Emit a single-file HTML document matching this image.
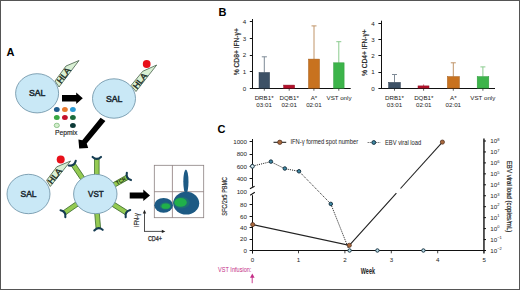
<!DOCTYPE html>
<html><head><meta charset="utf-8">
<style>
html,body{margin:0;padding:0;background:#fff;}
svg{display:block;}
text{font-family:"Liberation Sans",sans-serif;}
.t{font-size:6.2px;fill:#222;}
.lb{font-size:11px;font-weight:bold;fill:#000;}
</style></head><body>
<svg width="520" height="290" viewBox="0 0 520 290">
<rect x="0" y="0" width="520" height="290" fill="#fff"/>
<rect x="0.5" y="0.5" width="519" height="289" fill="none" stroke="#555" stroke-width="1"/>

<!-- ============ PANEL A ============ -->
<text class="lb" x="6.6" y="56.4">A</text>

<!-- SAL 1 + HLA -->
<polygon points="55,81 66,66 79,60.5 59,87" fill="#d9f0d4" stroke="#2f4a34" stroke-width="0.7"/>
<ellipse cx="37.1" cy="93.3" rx="21.5" ry="19.6" fill="#c9e8f6" stroke="#6f93a8" stroke-width="0.85"/>
<text x="63.6" y="78.42" font-size="8.4" fill="#1a2a22" stroke="#1a2a22" stroke-width="0.35" text-anchor="middle" textLength="17.2" lengthAdjust="spacingAndGlyphs" transform="rotate(-53.5 63.6 75.4)">HLA</text>
<text x="28.9" y="95.9" font-size="9.1" fill="#1c2a32" stroke="#1c2a32" stroke-width="0.5" textLength="16.5" lengthAdjust="spacingAndGlyphs">SAL</text>

<!-- arrow right 1 -->
<polygon points="62,95 76.2,95 76.2,92.4 82.8,98.2 76.2,104.1 76.2,101.5 62,101.5" fill="#000"/>

<!-- pepmix -->
<g>
<ellipse cx="56.8" cy="109.5" rx="2.9" ry="2.5" fill="#1f5c8c"/>
<ellipse cx="64.9" cy="109.5" rx="2.9" ry="2.5" fill="#e8782c"/>
<ellipse cx="72.9" cy="109.5" rx="2.9" ry="2.5" fill="#2a9ad4"/>
<ellipse cx="56.8" cy="117.5" rx="2.9" ry="2.5" fill="#3aa844"/>
<ellipse cx="64.9" cy="117.5" rx="2.9" ry="2.5" fill="#c4102c"/>
<ellipse cx="72.9" cy="117.5" rx="2.9" ry="2.5" fill="#1b6b3c"/>
<ellipse cx="56.8" cy="125.4" rx="2.6" ry="2.2" fill="#d4eecc" stroke="#5aa85a" stroke-width="0.6"/>
<ellipse cx="72.9" cy="125.4" rx="2.9" ry="2.5" fill="#0d3a38"/>
</g>
<text x="54.9" y="134.8" font-size="7.2" fill="#222" stroke="#222" stroke-width="0.15" textLength="22.5" lengthAdjust="spacingAndGlyphs">Pepmix</text>

<!-- SAL 2 -->
<polygon points="131,85.5 142.7,71.3 156.7,65 136,91.5" fill="#d9f0d4" stroke="#2f4a34" stroke-width="0.7"/>
<ellipse cx="114" cy="98.5" rx="21.5" ry="19.7" fill="#c9e8f6" stroke="#6f93a8" stroke-width="0.85"/>
<text x="139.85" y="83.87" font-size="8.4" fill="#1a2a22" stroke="#1a2a22" stroke-width="0.35" text-anchor="middle" textLength="17.2" lengthAdjust="spacingAndGlyphs" transform="rotate(-52 139.85 80.85)">HLA</text>
<circle cx="146.7" cy="64" r="3.9" fill="#e8101a"/>
<text x="105.9" y="101.6" font-size="9.1" fill="#1c2a32" stroke="#1c2a32" stroke-width="0.5" textLength="16.5" lengthAdjust="spacingAndGlyphs">SAL</text>

<!-- diagonal arrow -->
<polygon points="100.6,117.7 105.4,121 86.7,143.6 88.2,147.9 79.2,148.4 78.4,139.6 82.3,140.3" fill="#000"/>

<!-- SAL 3 -->
<polygon points="46.6,180.3 56.8,166.8 70.6,161 50.3,186.5" fill="#d9f0d4" stroke="#2f4a34" stroke-width="0.7"/>
<ellipse cx="28.5" cy="194" rx="21.5" ry="19.7" fill="#c9e8f6" stroke="#6f93a8" stroke-width="0.85"/>
<text x="54.65" y="178.97" font-size="8.4" fill="#1a2a22" stroke="#1a2a22" stroke-width="0.35" text-anchor="middle" textLength="17.2" lengthAdjust="spacingAndGlyphs" transform="rotate(-52.5 54.65 175.95)">HLA</text>
<circle cx="60.7" cy="159.4" r="4" fill="#e8101a"/>
<text x="20.5" y="196.9" font-size="9.1" fill="#1c2a32" stroke="#1c2a32" stroke-width="0.5" textLength="16" lengthAdjust="spacingAndGlyphs">SAL</text>

<!-- VST cell receptors -->
<g transform="translate(96.8 176.0) rotate(-90.0)"><rect x="-2" y="-2.3" width="19.1" height="4.6" fill="#94ca52" stroke="#3a6a2a" stroke-width="0.75"/><path d="M19.1,-4.2 Q15.2,0 19.1,4.2" fill="none" stroke="#153c52" stroke-width="2.1" stroke-linecap="round"/></g>
<g transform="translate(83.0 179.0) rotate(-124.1)"><rect x="-2" y="-2.3" width="19.1" height="4.6" fill="#94ca52" stroke="#3a6a2a" stroke-width="0.75"/><path d="M19.1,-4.2 Q15.2,0 19.1,4.2" fill="none" stroke="#153c52" stroke-width="2.1" stroke-linecap="round"/></g>
<g transform="translate(114.5 184.6) rotate(-29.6)"><rect x="-2" y="-2.3" width="16.6" height="4.6" fill="#94ca52" stroke="#3a6a2a" stroke-width="0.75"/><text x="7.4" y="1.8" font-size="5.2" font-weight="bold" fill="#142a0c" text-anchor="middle" textLength="10.4" lengthAdjust="spacingAndGlyphs">TCR</text><path d="M16.6,-4.2 Q12.7,0 16.6,4.2" fill="none" stroke="#153c52" stroke-width="2.1" stroke-linecap="round"/></g>
<g transform="translate(113.5 204.5) rotate(32.3)"><rect x="-2" y="-2.3" width="17.1" height="4.6" fill="#94ca52" stroke="#3a6a2a" stroke-width="0.75"/><path d="M17.1,-4.2 Q13.2,0 17.1,4.2" fill="none" stroke="#153c52" stroke-width="2.1" stroke-linecap="round"/></g>
<g transform="translate(96.9 212.0) rotate(85.0)"><rect x="-2" y="-2.3" width="18.2" height="4.6" fill="#94ca52" stroke="#3a6a2a" stroke-width="0.75"/><path d="M18.2,-4.2 Q14.3,0 18.2,4.2" fill="none" stroke="#153c52" stroke-width="2.1" stroke-linecap="round"/></g>
<g transform="translate(77.0 204.0) rotate(145.3)"><rect x="-2" y="-2.3" width="17.1" height="4.6" fill="#94ca52" stroke="#3a6a2a" stroke-width="0.75"/><path d="M17.1,-4.2 Q13.2,0 17.1,4.2" fill="none" stroke="#153c52" stroke-width="2.1" stroke-linecap="round"/></g>
<ellipse cx="95.3" cy="194" rx="21.7" ry="19.7" fill="#c9e8f6" stroke="#6f93a8" stroke-width="0.85"/>
<text x="88.1" y="196.5" font-size="9.1" fill="#1c2a32" stroke="#1c2a32" stroke-width="0.5" textLength="15.6" lengthAdjust="spacingAndGlyphs">VST</text>

<!-- arrow right 2 -->
<polygon points="129.7,192.5 143.3,192.5 143.3,189.5 150,195.5 143.3,201.1 143.3,198.5 129.7,198.5" fill="#000"/>

<!-- flow plot -->
<g>
  <rect x="154.3" y="165.3" width="49.4" height="52.4" fill="#fff" stroke="#8a8080" stroke-width="0.8"/>
  <line x1="172.4" y1="165.3" x2="172.4" y2="217.7" stroke="#8a7a7a" stroke-width="0.8"/>
  <line x1="154.3" y1="191.7" x2="203.7" y2="191.7" stroke="#8a7a7a" stroke-width="0.8"/>
  <ellipse cx="163.6" cy="205.3" rx="9.3" ry="7.4" fill="#1d5a84"/>
  <ellipse cx="165.6" cy="206" rx="5.6" ry="3.6" fill="#1f7a6c"/>
  <ellipse cx="165.8" cy="206.2" rx="4.2" ry="2.6" fill="#20b04a"/>
  <ellipse cx="185.9" cy="181.6" rx="2.6" ry="12.2" fill="#1d5a84"/>
  <ellipse cx="186.2" cy="203.2" rx="13" ry="11.4" fill="#1d5a84"/>
  <ellipse cx="181.5" cy="202.6" rx="8.2" ry="5.8" fill="#1e6e74"/>
  <ellipse cx="180.6" cy="202.4" rx="6.2" ry="4.3" fill="#20b04a"/>
</g>
<!-- axes arrows -->
<line x1="144.5" y1="231.4" x2="144.5" y2="212.5" stroke="#222" stroke-width="0.8"/>
<polygon points="144.5,209.8 142.8,213.4 146.2,213.4" fill="#222"/>
<line x1="144.1" y1="231.4" x2="162.5" y2="231.4" stroke="#222" stroke-width="0.8"/>
<polygon points="165.4,231.4 161.8,229.7 161.8,233.1" fill="#222"/>
<text x="138.7" y="227" font-size="6.6" fill="#222" stroke="#222" stroke-width="0.2" transform="rotate(-90 138.7 227)" textLength="13.7" lengthAdjust="spacingAndGlyphs">IFN-γ</text>
<text x="147.9" y="240.7" font-size="7.2" fill="#222" stroke="#222" stroke-width="0.25" textLength="14.1" lengthAdjust="spacingAndGlyphs">CD4+</text>

<!-- ============ PANEL B ============ -->
<text class="lb" x="218.6" y="16">B</text>

<!-- left chart -->
<g stroke="#111" stroke-width="1" fill="none">
  <line x1="252.5" y1="19" x2="252.5" y2="89"/>
  <line x1="252" y1="88.5" x2="350.7" y2="88.5"/>
  <path d="M249.8,88.5h2.7M249.8,71.5h2.7M249.8,55.5h2.7M249.8,38.5h2.7M249.8,21.5h2.7"/>
  <path d="M264.3,88.5v2.2M289.2,88.5v2.2M313.9,88.5v2.2M338.8,88.5v2.2" stroke-width="0.7"/>
</g>
<g class="t" text-anchor="end">
  <text x="246.2" y="90.7">0</text>
  <text x="246.2" y="74.05">1</text>
  <text x="246.2" y="57.4">2</text>
  <text x="246.2" y="40.75">3</text>
  <text x="246.2" y="24.1">4</text>
</g>
<!-- errors -->
<g stroke-width="1">
  <path d="M264.3,72.5V56.8M261.8,56.8H266.9" stroke="#7e8a96"/>
  <path d="M314,59.1V25.9M311.5,25.9H316.5" stroke="#c09468"/>
  <path d="M338.8,62.8V41.7M336.3,41.7H341.3" stroke="#8acb8e"/>
</g>
<rect x="259" y="72.5" width="10.6" height="15.7" fill="#3d5166" stroke="#2c3c4e" stroke-width="0.5"/>
<rect x="283.7" y="85.1" width="10.9" height="3.1" fill="#b5122c" stroke="#8a0e20" stroke-width="0.5"/>
<rect x="308.5" y="59.1" width="11" height="29.1" fill="#c8721f" stroke="#a45a16" stroke-width="0.5"/>
<rect x="333.6" y="62.8" width="10.5" height="25.4" fill="#3cb44a" stroke="#2d9a3a" stroke-width="0.5"/>
<g class="t" text-anchor="middle">
  <text x="264.1" y="99.6">DRB1*</text><text x="264.1" y="106.9">03:01</text>
  <text x="289.2" y="99.6">DQB1*</text><text x="289.2" y="106.9">02:01</text>
  <text x="313.9" y="99.6">A*</text><text x="313.9" y="106.9">02:01</text>
  <text x="339" y="99.6">VST only</text>
</g>
<text x="238.8" y="75.2" font-size="6.6" fill="#222" stroke="#222" stroke-width="0.2" transform="rotate(-90 238.8 75.2)" textLength="47" lengthAdjust="spacingAndGlyphs">% CD8+ IFN-γ+</text>

<!-- right chart -->
<g stroke="#111" stroke-width="1" fill="none">
  <line x1="381.5" y1="20.7" x2="381.5" y2="89"/>
  <line x1="381" y1="88.5" x2="495" y2="88.5"/>
  <path d="M378.4,88.5h3M378.4,72.5h3M378.4,55.5h3M378.4,39.5h3M378.4,23.5h3"/>
  <path d="M394.5,88.5v2.2M423.6,88.5v2.2M453.3,88.5v2.2M482.9,88.5v2.2" stroke-width="0.7"/>
</g>
<g class="t" text-anchor="end">
  <text x="374.8" y="90.5">0</text>
  <text x="374.8" y="74.3">1</text>
  <text x="374.8" y="58.1">2</text>
  <text x="374.8" y="41.9">3</text>
  <text x="374.8" y="25.7">4</text>
</g>
<g stroke-width="1">
  <path d="M394.5,82.4V74.5M392,74.5H397" stroke="#7e8a96"/>
  <path d="M423.6,85.9V84.5" stroke="#d05070"/>
  <path d="M453.3,76.6V62.8M450.8,62.8H455.8" stroke="#c09468"/>
  <path d="M482.9,76.6V66.9M480.4,66.9H485.4" stroke="#8acb8e"/>
</g>
<rect x="388.6" y="82.4" width="11.8" height="5.7" fill="#3d5166" stroke="#2c3c4e" stroke-width="0.5"/>
<rect x="418" y="85.9" width="11" height="2.2" fill="#b5122c" stroke="#8a0e20" stroke-width="0.5"/>
<rect x="447.4" y="76.6" width="12" height="11.5" fill="#c8721f" stroke="#a45a16" stroke-width="0.5"/>
<rect x="477.2" y="76.6" width="11.6" height="11.5" fill="#3cb44a" stroke="#2d9a3a" stroke-width="0.5"/>
<g class="t" text-anchor="middle">
  <text x="394.5" y="99.6">DRB1*</text><text x="394.5" y="106.9">03:01</text>
  <text x="423.8" y="99.6">DQB1*</text><text x="423.8" y="106.9">02:01</text>
  <text x="453.3" y="99.6">A*</text><text x="453.3" y="106.9">02:01</text>
  <text x="482.8" y="99.6">VST only</text>
</g>
<text x="367.5" y="76.1" font-size="6.6" fill="#222" stroke="#222" stroke-width="0.2" transform="rotate(-90 367.5 76.1)" textLength="46.8" lengthAdjust="spacingAndGlyphs">% CD4+ IFN-γ+</text>

<!-- ============ PANEL C ============ -->
<text class="lb" x="217.6" y="132.6">C</text>

<!-- left axis with break -->
<g stroke="#111" stroke-width="1" fill="none">
  <line x1="252.5" y1="139" x2="252.5" y2="186.8"/>
  <line x1="252.5" y1="195.2" x2="252.5" y2="253.6"/>
  <path d="M249.9,188.8L254.6,186.3M250.2,195.2L254.8,192.2" stroke-width="1.1"/>
  <path d="M249.6,141.5h2.9M249.6,154.5h2.9M249.6,166.5h2.9M249.6,178.5h2.9M249.6,204.5h2.9M249.6,216.5h2.9M249.6,227.5h2.9M249.6,239.5h2.9M249.6,250.5h2.9"/>
  <line x1="252" y1="250.5" x2="486" y2="250.5"/>
  <path d="M298.5,250.5v2.8M344.9,250.5v2.8M391.3,250.5v2.8M437.7,250.5v2.8" stroke-width="0.8"/>
  <!-- right axis -->
  <line x1="483.95" y1="138.5" x2="483.95" y2="253.6" stroke-width="1.4"/>
  <path d="M483.8,141h2.2M483.8,151.95h2.2M483.8,162.9h2.2M483.8,173.85h2.2M483.8,184.8h2.2M483.8,195.75h2.2M483.8,206.7h2.2M483.8,217.65h2.2M483.8,228.6h2.2M483.8,239.55h2.2M483.8,250.5h2.2"/>
</g>
<g class="t" text-anchor="end">
  <text x="247" y="144.1">1000</text>
  <text x="247" y="156.3">800</text>
  <text x="247" y="168.6">600</text>
  <text x="247" y="180.8">400</text>
  <text x="247" y="193.5">100</text>
  <text x="247" y="207">80</text>
  <text x="247" y="218.5">60</text>
  <text x="247" y="229.8">40</text>
  <text x="247" y="241.2">20</text>
  <text x="247" y="252.6">0</text>
</g>
<g class="t" text-anchor="middle">
  <text x="252.5" y="262">0</text>
  <text x="298.6" y="262">1</text>
  <text x="345" y="262">2</text>
  <text x="391.4" y="262">3</text>
  <text x="437.8" y="262">4</text>
  <text x="484.2" y="262">5</text>
</g>
<g class="t">
  <text x="490.3" y="143.2">10<tspan font-size="4" dy="-2.5">8</tspan></text>
  <text x="490.3" y="154.2">10<tspan font-size="4" dy="-2.5">7</tspan></text>
  <text x="490.3" y="165.1">10<tspan font-size="4" dy="-2.5">6</tspan></text>
  <text x="490.3" y="176.1">10<tspan font-size="4" dy="-2.5">5</tspan></text>
  <text x="490.3" y="187">10<tspan font-size="4" dy="-2.5">4</tspan></text>
  <text x="490.3" y="198">10<tspan font-size="4" dy="-2.5">3</tspan></text>
  <text x="490.3" y="208.9">10<tspan font-size="4" dy="-2.5">2</tspan></text>
  <text x="490.3" y="219.9">10<tspan font-size="4" dy="-2.5">1</tspan></text>
  <text x="490.3" y="230.8">10<tspan font-size="4" dy="-2.5">0</tspan></text>
  <text x="490.3" y="241.8">10<tspan font-size="4" dy="-2.5">−1</tspan></text>
  <text x="490.3" y="252.7">10<tspan font-size="4" dy="-2.5">−2</tspan></text>
</g>
<text x="506.5" y="160.8" font-size="6.5" fill="#222" stroke="#222" stroke-width="0.2" transform="rotate(90 506.5 160.8)" textLength="71.5" lengthAdjust="spacingAndGlyphs">EBV viral load (copies/mL)</text>
<text x="227.4" y="215.7" font-size="8" fill="#2a2a2a" stroke="#2a2a2a" stroke-width="0.15" transform="rotate(-90 227.4 215.7)" textLength="38.8" lengthAdjust="spacingAndGlyphs">SFC/2x5 PBMC</text>
<text x="360.8" y="273.5" font-size="8.7" font-weight="bold" fill="#222" textLength="14.2" lengthAdjust="spacingAndGlyphs">Week</text>

<!-- VST infusion -->
<text x="218.1" y="271.9" font-size="6.8" fill="#c42c86" textLength="33.3" lengthAdjust="spacingAndGlyphs">VST Infusion:</text>
<line x1="252.2" y1="283.2" x2="252.2" y2="276.5" stroke="#c42c86" stroke-width="0.9"/>
<polygon points="252.3,273.5 250,277.7 254.6,277.7" fill="#c42c86"/>

<!-- legend -->
<line x1="273.5" y1="142.3" x2="286.2" y2="142.3" stroke="#222" stroke-width="1.1"/>
<circle cx="279.8" cy="142.3" r="2.2" fill="#a8683c" stroke="#4a2a1a" stroke-width="0.7"/>
<text x="290.4" y="144.3" class="t" font-size="6.8" style="font-size:6.8px" textLength="67.7" lengthAdjust="spacingAndGlyphs">IFN-γ formed spot number</text>
<line x1="367.7" y1="142.5" x2="380.2" y2="142.5" stroke="#333" stroke-width="0.9" stroke-dasharray="1 1"/>
<circle cx="373.8" cy="142.5" r="1.9" fill="#3f8aa6" stroke="#173342" stroke-width="1"/>
<text x="385" y="144.5" class="t" style="font-size:6.8px" textLength="36.2" lengthAdjust="spacingAndGlyphs">EBV viral load</text>

<!-- EBV series -->
<polyline points="252.5,166.1 270.7,161.7 284.8,168.7 299,171.3 330.8,203.9 349.3,250.5" fill="none" stroke="#222" stroke-width="1" stroke-dasharray="1.1 1.1"/>
<line x1="349.3" y1="250.5" x2="423.4" y2="250.5" stroke="#333" stroke-width="0"/>
<g fill="#3f8aa6" stroke="#173342" stroke-width="1">
  <circle cx="252.4" cy="166.3" r="1.9" fill="#d8ecf2"/>
  <circle cx="270.9" cy="161.6" r="1.75"/>
  <circle cx="284.8" cy="168.5" r="1.75"/>
  <circle cx="299" cy="171.3" r="1.75"/>
  <circle cx="330.8" cy="203.9" r="1.75"/>
  <circle cx="349.6" cy="250.5" r="1.7" fill="#bcdde8"/>
  <circle cx="377.4" cy="250.5" r="1.7" fill="#bcdde8"/>
  <circle cx="423.4" cy="250.5" r="1.7" fill="#bcdde8"/>
</g>

<!-- IFN series -->
<g fill="none" stroke="#222" stroke-width="1.1">
  <polyline points="252.7,224.6 349.3,245.3 396.4,193.1"/>
  <line x1="400.5" y1="188.5" x2="442.4" y2="142.1"/>
</g>
<g fill="#a8683c" stroke="#4a2a1a" stroke-width="0.7">
  <circle cx="252.7" cy="224.6" r="2.1"/>
  <circle cx="349.3" cy="245.3" r="2.1"/>
  <circle cx="442.4" cy="142.1" r="2.1"/>
</g>
</svg>
</body></html>
